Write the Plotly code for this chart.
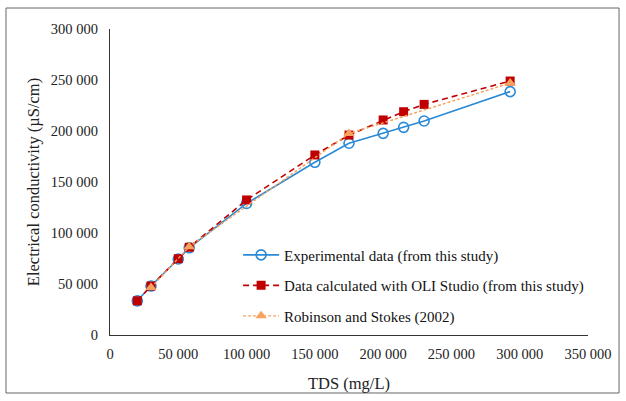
import plotly.graph_objects as go

exp_x = [20000, 30000, 50000, 58000, 100000, 150000, 175000, 200000, 215000, 230000, 293000]
exp_y = [33500, 48000, 74500, 85500, 129000, 169300, 188000, 197700, 203600, 209800, 238600]

oli_x = [20000, 30000, 50000, 58000, 100000, 150000, 175000, 200000, 215000, 230000, 293000]
oli_y = [33500, 48000, 74800, 86000, 132400, 176500, 196000, 210800, 218900, 226100, 249000]

rs_x = [30000, 58000, 175000, 293000]
rs_y = [46500, 86500, 197500, 247000]

names = ["Experimental data (from this study)",
         "Data calculated with OLI Studio (from this study)",
         "Robinson and Stokes (2002)"]

font = "Liberation Serif"
tickfont = dict(family=font, size=14.5, color="#222")

fig = go.Figure()
fig.add_trace(go.Scatter(x=exp_x, y=exp_y, name=names[0], mode="lines+markers",
                         legendgroup="a",
                         line=dict(color="#2B8AD6", width=1.6),
                         marker=dict(symbol="circle-open", size=10, color="#2B8AD6",
                                     line=dict(width=1.6, color="#2B8AD6"))))
fig.add_trace(go.Scatter(x=oli_x, y=oli_y, name=names[1], mode="lines+markers",
                         legendgroup="b",
                         line=dict(color="#C00000", width=1.6, dash="6px,4px"),
                         marker=dict(symbol="square", size=9, color="#C00000")))
fig.add_trace(go.Scatter(x=rs_x, y=rs_y, name=names[2], mode="lines+markers",
                         legendgroup="c",
                         line=dict(color="#F6A25C", width=1.4, dash="3px,2px"),
                         marker=dict(symbol="triangle-up", size=10, color="#F6A25C")))

fig.update_layout(
    width=626, height=401,
    margin=dict(l=110, r=38, t=29, b=66),
    paper_bgcolor="white", plot_bgcolor="white",
    separators=". ",
    font=dict(family=font, size=14, color="#222"),
    showlegend=True,
    legend=dict(x=0.268, y=0.315, xanchor="left", yanchor="top",
                font=dict(family=font, size=15, color="#111"),
                traceorder="grouped", tracegroupgap=8,
                bgcolor="rgba(0,0,0,0)", itemwidth=36),
    xaxis=dict(range=[0, 350000], dtick=50000, tickformat=",d", tickfont=tickfont,
               showgrid=False, zeroline=False, showline=True,
               linecolor="#333", linewidth=1.3, ticks="", ticklen=0,
               ticklabelstandoff=5,
               title=dict(text="TDS (mg/L)", font=dict(family=font, size=16.5, color="#222"),
                          standoff=16)),
    yaxis=dict(range=[0, 300000], dtick=50000, tickformat=",d", tickfont=tickfont,
               showgrid=False, zeroline=False, showline=True,
               linecolor="#333", linewidth=1.3, ticks="", ticklen=0,
               ticklabelstandoff=8,
               title=dict(text="Electrical conductivity (µS/cm)",
                          font=dict(family=font, size=16.5, color="#222"), standoff=7)),
    shapes=[dict(type="rect", xref="paper", yref="paper",
                 x0=-0.2176, x1=1.0649, y0=-0.1895, y1=1.0686,
                 line=dict(color="#666", width=1), fillcolor="rgba(0,0,0,0)", layer="below")],
)

fig.write_html("out.html", config={"displayModeBar": False},
               post_script="document.body.style.margin='0';")
